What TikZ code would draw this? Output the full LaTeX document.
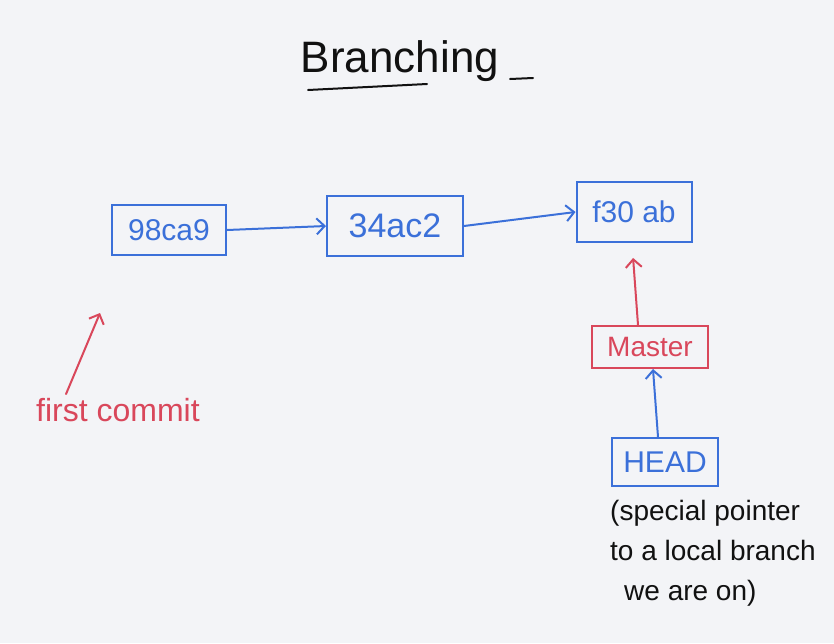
\documentclass[tikz,border=0pt]{standalone}
\usepackage{fontspec}
\setmainfont{Liberation Sans}
\usetikzlibrary{arrows.meta}
\definecolor{pblue}{HTML}{3B70D9}
\definecolor{pred}{HTML}{D9475B}
\definecolor{bgc}{HTML}{F3F4F7}
\definecolor{ink}{HTML}{111111}
\begin{document}
\begin{tikzpicture}[x=1pt,y=-1pt,
  fs/.style={font=\fontsize{#1}{#1}\selectfont},
  commit/.style={draw=pblue, text=pblue, line width=2pt, inner sep=0pt},
  refbox/.style={draw=pred, text=pred, line width=2pt, inner sep=0pt},
  arr/.style={-{Straight Barb[length=8pt,width=16pt,line width=2pt]}, line width=2pt, line cap=round}]
\fill[bgc] (0,0) rectangle (834,643);
\useasboundingbox (0,0) rectangle (834,643);
% title
\node[anchor=base, fs=44, text=ink] (title) at (400,72) {Branching};
\draw[ink, line width=2pt, line cap=round] (308,90) -- (427,84);
\draw[ink, line width=2pt, line cap=round] (510,79) -- (533,78);
% commits
\node[commit, fs=30, minimum width=114pt, minimum height=50pt] (c1) at (169,230) {98ca9};
\node[commit, fs=34, minimum width=136pt, minimum height=60pt] (c2) at (395,226) {34ac2};
\node[commit, fs=30, minimum width=115pt, minimum height=60pt] (c3) at (634,212) {f30 ab};
\node[refbox, fs=28, minimum width=116pt, minimum height=42pt] (m) at (650,347) {Master};
\node[commit, fs=30, minimum width=106pt, minimum height=48pt] (h) at (665,462) {HEAD};
% connectors
\draw[arr, pblue] (c1.east) -- (c2.west);
\draw[arr, pblue] (c2.east) -- (c3.west);
\draw[arr, pred, shorten >=15pt] ([xshift=-12pt]m.north) -- ([xshift=-2pt]c3.south);
\draw[arr, pblue] ([xshift=-7pt]h.north) -- ([xshift=3pt]m.south);
% first commit note
\node[fs=32, text=pred, inner sep=0pt] (fc) at (118,410) {first commit};
\coordinate (fcp) at (100,313);
\draw[arr, pred] ([xshift=30pt,yshift=4pt]fc.north west) -- (fcp);
% HEAD note
\node[anchor=north west, align=left, fs=28, text=ink, inner sep=0pt] (note) at (610,500)
  {(special pointer\\[12pt]to a local branch\\[12pt]\hspace{14pt}we are on)};
\end{tikzpicture}
\end{document}
